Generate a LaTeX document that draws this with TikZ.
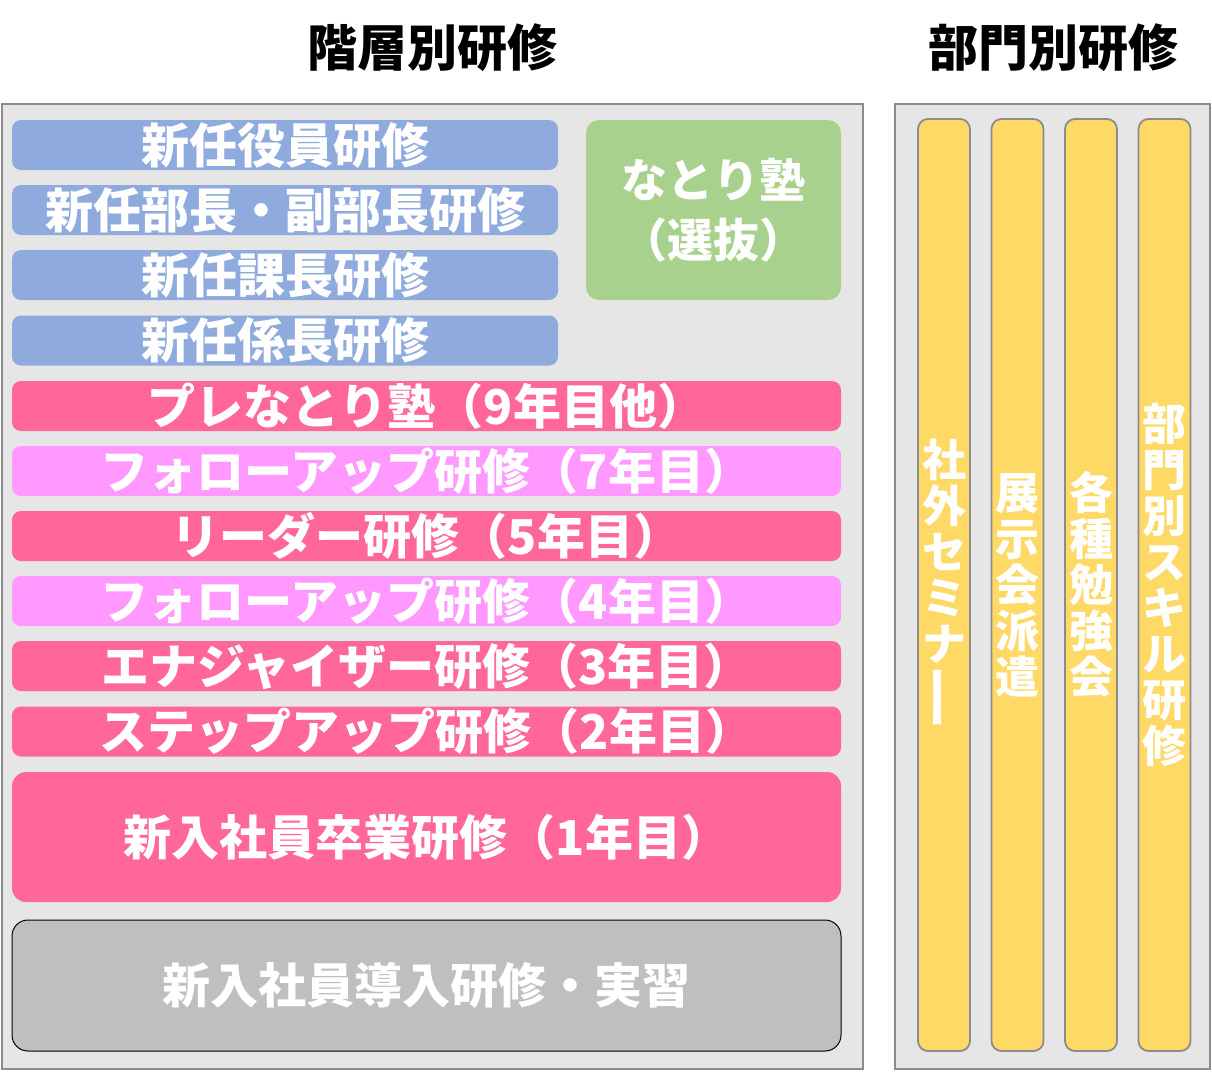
\documentclass[tikz,border=0pt]{standalone}
\usepackage{fontspec}
\usepackage{graphicx}
\setmainfont{Noto Sans CJK JP}
\usetikzlibrary{positioning}
\definecolor{mback}{HTML}{E7E6E6}
\definecolor{mframe}{HTML}{8C8C8C}
\definecolor{mblue}{HTML}{8FAADC}
\definecolor{mgreen}{HTML}{A9D18E}
\definecolor{mpink}{HTML}{FF6699}
\definecolor{mlight}{HTML}{FF99FF}
\definecolor{mgray}{HTML}{BFBFBF}
\definecolor{myellow}{HTML}{FFD966}
\tikzset{
  area/.style = {draw = mframe, fill = mback, line width = 2pt, inner sep = 0},
  title/.style = {font = \fontsize{50}{54}\selectfont\bfseries, inner sep = 0},
  course/.style = {rounded corners = 9pt, inner sep = 0, text = white,
    font = \fontsize{48}{52}\selectfont\bfseries},
  newpost/.style = {course, fill = mblue, minimum width = 546pt, minimum height = 50pt},
  yearly/.style = {course, fill = mpink, minimum width = 829pt, minimum height = 50pt},
  follow/.style = {yearly, fill = mlight},
  column/.style = {draw = mframe, fill = myellow, line width = 1.8pt, rounded corners = 10pt,
    minimum width = 52pt, minimum height = 932pt, inner sep = 0, align = center, text = white,
    font = \fontsize{44}{46}\selectfont\bfseries}
}
\newcommand{\vbar}{\rotatebox[origin = c]{90}{\scalebox{1.5}[1]{ー}}}

\begin{document}
\begin{tikzpicture}[x = 1pt, y = -1pt]
      \useasboundingbox (0, 0) rectangle (1212, 1071);

      \node [title] (hiertitle) at (432, 48) {階層別研修};
      \node [title] (depttitle) at (1053, 48) {部門別研修};

      \node [area, minimum width = 861pt, minimum height = 965pt] (hier) at (432.5, 586.5) {};
      \node [area, minimum width = 315pt, minimum height = 965pt] (dept) at (1052.5, 586.5) {};

      \node [newpost] (officer) at (285, 145) {新任役員研修};
      \node [newpost] (manager) at (285, 210) {新任部長・副部長研修};
      \node [newpost] (section) at (285, 275) {新任課長研修};
      \node [newpost] (chief) at (285, 340.5) {新任係長研修};

      \node [course, fill = mgreen, rounded corners = 13pt, minimum width = 255pt,
        minimum height = 180pt, align = center, font = \fontsize{46}{60}\selectfont\bfseries]
        (juku) at (713.5, 210) {なとり塾\\（選抜）};

      \node [yearly] (prejuku) at (426.5, 406) {プレなとり塾（9年目他）};
      \node [follow] (follow7) at (426.5, 471) {フォローアップ研修（7年目）};
      \node [yearly] (leader) at (426.5, 536) {リーダー研修（5年目）};
      \node [follow] (follow4) at (426.5, 601) {フォローアップ研修（4年目）};
      \node [yearly] (energy) at (426.5, 666) {エナジャイザー研修（3年目）};
      \node [yearly] (stepup) at (426.5, 731.5) {ステップアップ研修（2年目）};
      \node [yearly, minimum height = 130pt, rounded corners = 14pt] (graduate) at (426.5, 837)
        {新入社員卒業研修（1年目）};
      \node [course, fill = mgray, draw = black, line width = 1pt, rounded corners = 16pt,
        minimum width = 829pt, minimum height = 131pt] (intro) at (426.5, 985.5)
        {新入社員導入研修・実習};

      \node [column] (seminar) at (944, 585) {社\\外\\セ\\ミ\\ナ\\\vbar};
      \node [column] (expo) at (1017.5, 585) {展\\示\\会\\派\\遣};
      \node [column] (study) at (1091, 585) {各\\種\\勉\\強\\会};
      \node [column] (skill) at (1164.5, 585) {部\\門\\別\\ス\\キ\\ル\\研\\修};
    \end{tikzpicture}
\end{document}
